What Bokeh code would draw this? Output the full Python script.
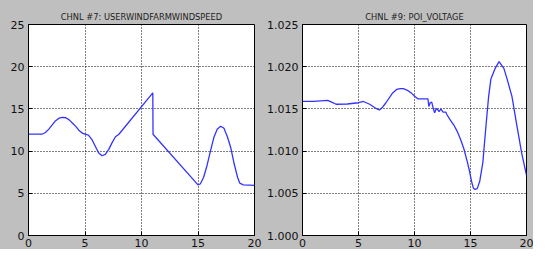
from bokeh.plotting import figure
from bokeh.layouts import row
from bokeh.models import Range1d, FixedTicker, PrintfTickFormatter
from bokeh.embed import file_html
from bokeh.resources import INLINE

# ---- data ----
x_ticks = [0, 5, 10, 15, 20]
wind_yticks = [0, 5, 10, 15, 20, 25]
volt_yticks = [1.000, 1.005, 1.010, 1.015, 1.020, 1.025]

title_wind = "CHNL #7: USERWINDFARMWINDSPEED"
title_volt = "CHNL #9: POI_VOLTAGE"

t_wind = [0, 0.5, 1.0, 1.2, 1.5, 1.8, 2.1, 2.4, 2.7, 3.0, 3.3, 3.6, 3.9, 4.2, 4.5,
          4.8, 5.0, 5.3, 5.6, 5.9, 6.2, 6.5, 6.8, 7.1, 7.4, 7.7, 8.0, 11.0, 11.02,
          15.0, 15.2, 15.5, 15.8, 16.1, 16.4, 16.7, 17.0, 17.3, 17.6, 17.9, 18.2,
          18.5, 18.7, 19.0, 20.0]
wind = [12.0, 12.0, 12.0, 12.0, 12.2, 12.6, 13.1, 13.6, 13.9, 14.0, 13.95, 13.7,
        13.3, 12.9, 12.4, 12.1, 12.0, 11.9, 11.4, 10.6, 9.8, 9.45, 9.6, 10.2, 11.0,
        11.7, 12.0, 16.9, 12.0, 6.0, 6.1, 6.9, 8.3, 10.0, 11.6, 12.6, 12.95, 12.7,
        11.7, 10.4, 8.5, 6.9, 6.2, 6.0, 5.95]

t_volt = [0, 1.0, 2.25, 2.6, 3.0, 4.0, 5.0, 5.43, 6.0, 6.5, 6.87, 7.15, 7.45, 8.02,
          8.4, 8.74, 9.0, 9.32, 9.7, 10.04, 10.33, 11.2, 11.28, 11.4, 11.54, 11.68,
          11.8, 11.95, 12.1, 12.2, 12.35, 12.55, 12.8, 12.9, 13.2, 13.5, 13.8, 14.1,
          14.4, 14.7, 14.9, 15.1, 15.25, 15.4, 15.6, 15.82, 16.1, 16.39, 16.62,
          16.82, 17.2, 17.55, 17.98, 18.27, 18.7, 19.13, 19.57, 20.0]
volt = [1.0159, 1.0159, 1.0160, 1.0158, 1.01555, 1.01558, 1.01573, 1.01588,
        1.01555, 1.0151, 1.01488, 1.0152, 1.01573, 1.01685, 1.0173, 1.01741,
        1.0174, 1.01723, 1.0169, 1.01648, 1.01618, 1.01618, 1.01528, 1.01573,
        1.01581, 1.01502, 1.01454, 1.01506, 1.01488, 1.01469, 1.01499, 1.01461,
        1.01461, 1.01431, 1.01368, 1.01312, 1.01237, 1.01143, 1.01031, 1.00882,
        1.0077, 1.00639, 1.00564, 1.00546, 1.00555, 1.00639, 1.00863, 1.01312,
        1.01648, 1.01853, 1.0198, 1.0206, 1.0198, 1.01853, 1.01648, 1.01312,
        1.00975, 1.00714]

BG = "#bfbfbf"
FONT = "DejaVu Sans"


def make(title, xs, ys, yr, yticks, width, bl, br, fmt=None):
    p = figure(width=width, height=249, output_backend="svg", toolbar_location=None,
               x_range=Range1d(0, 20), y_range=Range1d(*yr),
               min_border_left=bl, min_border_right=br, min_border_top=24,
               min_border_bottom=14)
    p.border_fill_color = BG
    p.background_fill_color = "white"
    p.outline_line_color = "black"
    p.outline_line_width = 1
    p.title.text = title
    p.title.align = "center"
    p.title.text_font = FONT
    p.title.text_font_size = "8.3px"
    p.title.text_font_style = "normal"
    p.title.text_color = "#222222"
    p.title.standoff = 5
    p.title.offset = 0
    p.line(xs, ys, line_color="#3333ff", line_width=1.3)
    p.xaxis.ticker = FixedTicker(ticks=x_ticks)
    p.yaxis.ticker = FixedTicker(ticks=yticks)
    if fmt:
        p.yaxis.formatter = PrintfTickFormatter(format=fmt)
    for ax in (p.xaxis, p.yaxis):
        ax.major_tick_in = 4
        ax.major_tick_out = 0
        ax.minor_tick_in = 0
        ax.minor_tick_out = 0
        ax.axis_line_color = "black"
        ax.major_tick_line_color = "black"
        ax.major_label_text_font = FONT
        ax.major_label_text_font_size = "11px"
        ax.major_label_text_color = "#111111"
    p.xaxis.major_label_standoff = 3
    p.yaxis.major_label_standoff = 4
    p.grid.grid_line_color = "black"
    p.grid.grid_line_dash = "1 2"
    p.grid.grid_line_width = 1
    return p


p1 = make(title_wind, t_wind, wind, (0, 25), wind_yticks, 264, 28, 10)
p2 = make(title_volt, t_volt, volt, (1.0, 1.025), volt_yticks, 269, 36, 7, "%.3f")

layout = row(p1, p2, spacing=0, styles={"background-color": BG})
open("out.html", "w").write(file_html(layout, INLINE))
